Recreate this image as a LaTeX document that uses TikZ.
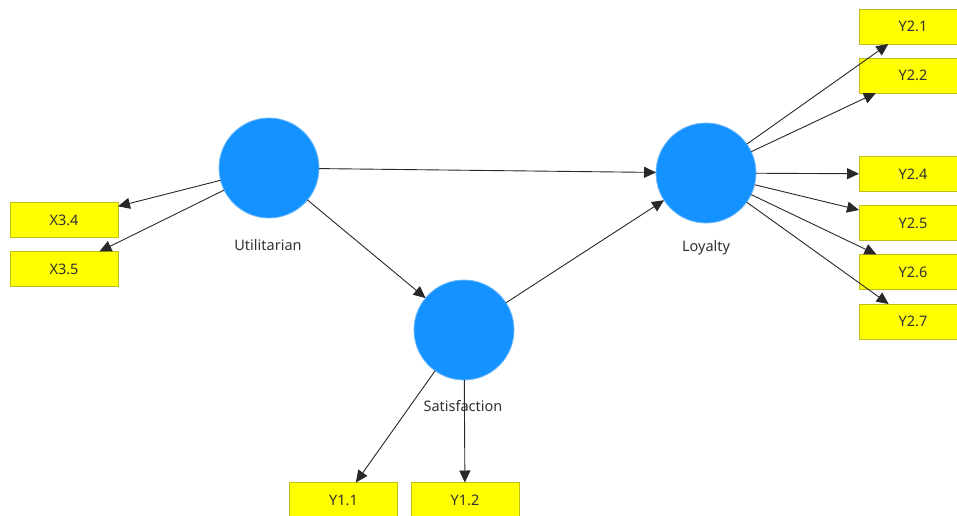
\documentclass[tikz,border=0pt]{standalone}
\usepackage{fontspec}
\setmainfont{Noto Sans}
\usetikzlibrary{arrows.meta}
\definecolor{lvblue}{RGB}{20,146,255}
\definecolor{lvedge}{RGB}{110,185,255}
\definecolor{mvfill}{RGB}{255,255,0}
\definecolor{mvedge}{RGB}{190,190,30}
\definecolor{txt}{RGB}{50,50,50}
\definecolor{lin}{RGB}{40,40,40}
\tikzset{
  latent/.style={circle,fill=lvblue,draw=lvedge,line width=0.8pt,minimum size=100pt,inner sep=0pt,outer sep=0pt},
  manifest/.style={rectangle,fill=mvfill,draw=mvedge,line width=0.8pt,minimum width=108pt,minimum height=35pt,inner sep=0pt,outer sep=0pt,font=\fontsize{14.5}{17}\selectfont,text=txt},
  lvlabel/.style={font=\fontsize{14.5}{17}\selectfont,text=txt},
  path/.style={draw=lin,line width=0.9pt,-{Triangle[length=12pt,width=11pt]}}
}
\begin{document}
\begin{tikzpicture}[x=1pt,y=-1pt]
\useasboundingbox[fill=white] (0,0) rectangle (957,515);
% manifest boxes
\node[manifest] (x34) at (64,220) {X3.4};
\node[manifest] (x35) at (64,269) {X3.5};
\node[manifest] (y21) at (913,26.5) {Y2.1};
\node[manifest] (y22) at (913,75.5) {Y2.2};
\node[manifest] (y24) at (913,174) {Y2.4};
\node[manifest] (y25) at (913,223) {Y2.5};
\node[manifest] (y26) at (913,272) {Y2.6};
\node[manifest] (y27) at (913,321.5) {Y2.7};
\node[manifest] (y11) at (343.5,500) {Y1.1};
\node[manifest] (y12) at (465,500) {Y1.2};
% latent variables
\node[latent] (U) at (269,168) {};
\node[latent] (L) at (706,173) {};
\node[latent] (S) at (464,330) {};
\node[lvlabel] (Ul) at (268,245) {Utilitarian};
\node[lvlabel] (Ll) at (706,248) {Loyalty};
\node[lvlabel] (Sl) at (463,406) {Satisfaction};
% paths
\draw[path] (U) -- (L);
\draw[path] (U) -- (S);
\draw[path] (S) -- (L);
\draw[path] (U) -- (x34);
\draw[path] (U) -- (x35);
\draw[path] (L) -- (y21);
\draw[path] (L) -- (y22);
\draw[path] (L) -- (y24);
\draw[path] (L) -- (y25);
\draw[path] (L) -- (y26);
\draw[path] (L) -- (y27);
\draw[path] (S) -- (y11);
\draw[path] (S) -- (y12);
\end{tikzpicture}
\end{document}
